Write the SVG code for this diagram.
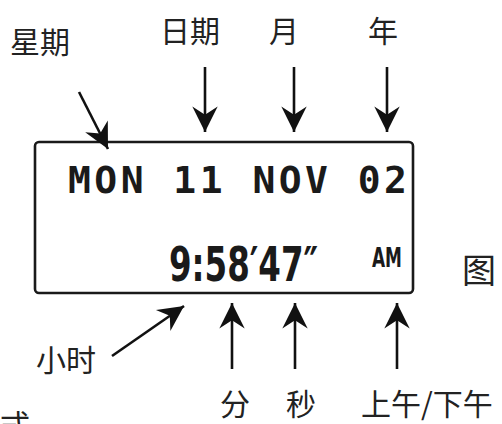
<svg xmlns="http://www.w3.org/2000/svg" width="502" height="424" viewBox="0 0 502 424">
<defs>
<marker id="ah" markerUnits="userSpaceOnUse" markerWidth="30" markerHeight="30" refX="0" refY="0" viewBox="-24 -13 26 26" orient="auto" overflow="visible">
<path d="M0,0 L-22,-11 L-15,0 L-22,11 Z" fill="#111"/>
</marker>
</defs>
<style>
.lbl{font-family:"Noto Sans CJK SC","Noto Sans",sans-serif;font-size:30px;fill:#222;}
.lcd{font-family:"DejaVu Sans Mono","Liberation Mono",monospace;font-weight:bold;font-size:38px;fill:#1a1a1a;}
.big{font-family:"DejaVu Sans Condensed","DejaVu Sans",sans-serif;font-weight:bold;font-size:48px;fill:#1a1a1a;}
.am{font-family:"DejaVu Sans Condensed","DejaVu Sans",sans-serif;font-weight:bold;font-size:26px;fill:#1a1a1a;}
.arr{stroke:#111;stroke-width:2.6;fill:none;marker-end:url(#ah);}
</style>
<rect width="502" height="424" fill="#fff"/>
<g id="display">
<rect x="35" y="142" width="378" height="151" rx="4" ry="4" fill="none" stroke="#1a1a1a" stroke-width="2.6"/>
<text class="lcd" x="68" y="193" textLength="339" lengthAdjust="spacing">MON 11 NOV 02</text>
<text class="big" x="169" y="281" textLength="149" lengthAdjust="spacingAndGlyphs">9:58′47″</text>
<text class="am" x="372" y="267" textLength="30" lengthAdjust="spacingAndGlyphs">AM</text>
</g>
<g id="label-weekday"><text class="lbl" x="40" y="53" text-anchor="middle">星期</text></g>
<g id="label-date"><text class="lbl" x="190" y="42" text-anchor="middle">日期</text></g>
<g id="label-month"><text class="lbl" x="284" y="42" text-anchor="middle">月</text></g>
<g id="label-year"><text class="lbl" x="383" y="42" text-anchor="middle">年</text></g>
<g id="label-hour"><text class="lbl" x="66" y="371" text-anchor="middle">小时</text></g>
<g id="label-minute"><text class="lbl" x="235" y="415" text-anchor="middle">分</text></g>
<g id="label-second"><text class="lbl" x="301" y="415" text-anchor="middle">秒</text></g>
<g id="label-ampm"><text class="lbl" x="361" y="415">上午/下午</text></g>
<g id="label-fig"><text class="lbl" x="479" y="283" text-anchor="middle" style="font-size:34px">图</text></g>
<g id="label-cut"><text class="lbl" x="0" y="436">式</text></g>
<g id="connectors">
<line class="arr" x1="79" y1="92" x2="108" y2="149"/>
<line class="arr" x1="205" y1="67" x2="205" y2="132"/>
<line class="arr" x1="294" y1="67" x2="294" y2="132"/>
<line class="arr" x1="387" y1="67" x2="387" y2="132"/>
<line class="arr" x1="112" y1="356" x2="184" y2="306"/>
<line class="arr" x1="232" y1="369" x2="232" y2="303"/>
<line class="arr" x1="295" y1="369" x2="295" y2="303"/>
<line class="arr" x1="397" y1="369" x2="397" y2="303"/>
</g>
</svg>
